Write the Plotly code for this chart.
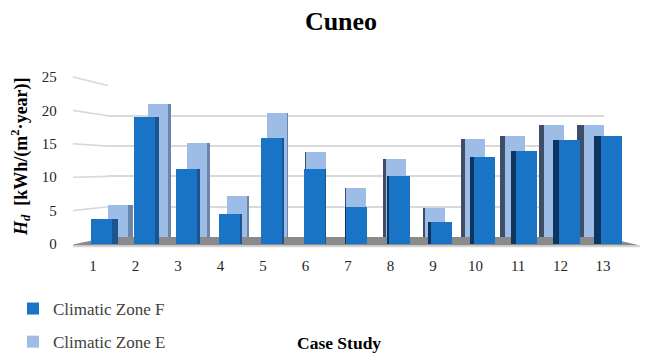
import plotly.graph_objects as go

# Heating demand per case study, two climatic zones
cases = list(range(1, 14))
case_labels = [str(c) for c in cases]
zone_f = [3.7, 19.0, 11.2, 4.5, 15.9, 11.2, 5.5, 10.2, 3.3, 13.0, 13.9, 15.6, 16.1]
zone_e = [5.3, 22.1, 15.6, 6.8, 20.6, 14.1, 8.2, 12.9, 4.8, 16.3, 16.7, 18.6, 18.6]
y_ticks = [0, 5, 10, 15, 20, 25]

W, H = 646, 357
FONT = "Liberation Serif, Times New Roman, serif"


def px(x):
    return x / W


def py(y):
    return 1 - y / H


# Pseudo-3D layout: the back row (zone E) sits on a smaller, raised set of axes
FRONT_X, FRONT_XR = (71.85, 624.35), (0.5, 13.5)
FRONT_Y = (244, 77)
BACK_X, BACK_XR = (108, 604), (0.95, 13.45)
BACK_Y = (237, 85.5)
Y_RANGE = (0, 25)
VANISH_X, DEPTH_K = 315, 0.024
FACE_OFF, FACE_W = -0.05, 0.5


def side_geometry(dom, rng, light, dark):
    scale = (dom[1] - dom[0]) / (rng[1] - rng[0])
    offs, widths, cols = [], [], []
    for c in cases:
        center = dom[0] + (c + FACE_OFF + FACE_W / 2 - rng[0]) * scale
        s = max(DEPTH_K * abs(center - VANISH_X), 1.0) / scale
        if center < VANISH_X:
            offs.append(FACE_OFF + FACE_W)
            cols.append(light)
        else:
            offs.append(FACE_OFF - s)
            cols.append(dark)
        widths.append(s)
    return offs, widths, cols


def front_y(v):
    return FRONT_Y[0] + (FRONT_Y[1] - FRONT_Y[0]) * v / Y_RANGE[1]


def back_y(v):
    return BACK_Y[0] + (BACK_Y[1] - BACK_Y[0]) * v / Y_RANGE[1]


fig = go.Figure()

# back row: zone E
b_off, b_w, b_col = side_geometry(BACK_X, BACK_XR, "#6c86ab", "#3e4e68")
fig.add_trace(go.Bar(x=cases, y=zone_e, offset=b_off, width=b_w,
                     marker=dict(color=b_col, line=dict(width=0)),
                     xaxis="x", yaxis="y", showlegend=False, hoverinfo="skip"))
fig.add_trace(go.Bar(x=cases, y=zone_e, offset=FACE_OFF, width=FACE_W,
                     name="Climatic Zone E", legendgroup="e", legendrank=2,
                     marker=dict(color="#9dbde7", line=dict(width=0)),
                     xaxis="x", yaxis="y"))

# front row: zone F
f_off, f_w, f_col = side_geometry(FRONT_X, FRONT_XR, "#1b5591", "#0d3561")
fig.add_trace(go.Bar(x=cases, y=zone_f, offset=f_off, width=f_w,
                     marker=dict(color=f_col, line=dict(width=0)),
                     xaxis="x2", yaxis="y2", showlegend=False, hoverinfo="skip"))
fig.add_trace(go.Bar(x=cases, y=zone_f, offset=FACE_OFF, width=FACE_W,
                     name="Climatic Zone F", legendgroup="f", legendrank=1,
                     marker=dict(color="#1a74c6", line=dict(width=0)),
                     xaxis="x2", yaxis="y2"))

shapes = []
# side-wall gridlines joining the front scale to the back wall
for v in y_ticks[1:]:
    shapes.append(dict(type="line", xref="paper", yref="paper", layer="below",
                       x0=px(73), y0=py(front_y(v)), x1=px(BACK_X[0]), y1=py(back_y(v)),
                       line=dict(color="#d9d9d9", width=1.6)))
# floor
floor = [(73, 244.5), (BACK_X[0], BACK_Y[0]), (BACK_X[1], BACK_Y[0]), (640, 245.5), (73, 245.5)]
path = "M" + " L".join(f"{px(a):.5f},{py(b):.5f}" for a, b in floor) + " Z"
shapes.append(dict(type="path", xref="paper", yref="paper", layer="below", path=path,
                   fillcolor="#8a8a8a", line=dict(width=0)))
shapes.append(dict(type="line", xref="paper", yref="paper", layer="below",
                   x0=px(73), y0=py(246.5), x1=px(640), y1=py(246.5),
                   line=dict(color="#d4d4d4", width=1.5)))

fig.update_layout(
    width=W, height=H,
    margin=dict(l=0, r=0, t=0, b=0, autoexpand=False),
    paper_bgcolor="white", plot_bgcolor="rgba(0,0,0,0)",
    barmode="overlay", bargap=0,
    font=dict(family=FONT, size=15, color="#262626"),
    title=dict(text="<b>Cuneo</b>", x=px(341), xanchor="center", y=py(21), yanchor="middle",
               font=dict(family=FONT, size=26, color="black")),
    xaxis=dict(domain=[px(BACK_X[0]), px(BACK_X[1])], range=list(BACK_XR), anchor="y",
               showgrid=False, zeroline=False, showline=False, showticklabels=False, ticks=""),
    yaxis=dict(domain=[py(BACK_Y[0]), py(BACK_Y[1])], range=list(Y_RANGE), anchor="x",
               tickvals=y_ticks, showgrid=True, gridcolor="#d9d9d9", gridwidth=1.6,
               zeroline=False, showline=False, showticklabels=False, ticks=""),
    xaxis2=dict(domain=[px(FRONT_X[0]), px(FRONT_X[1])], range=list(FRONT_XR), anchor="y2",
                tickvals=cases, ticktext=case_labels, showgrid=False, zeroline=False,
                showline=False, ticks="", ticklabelstandoff=11,
                tickfont=dict(family=FONT, size=15, color="#262626")),
    yaxis2=dict(domain=[py(FRONT_Y[0]), py(FRONT_Y[1])], range=list(Y_RANGE), anchor="x2",
                tickvals=y_ticks, showgrid=False, zeroline=False, showline=False, ticks="",
                ticklabelstandoff=14,
                tickfont=dict(family=FONT, size=15, color="#262626")),
    legend=dict(x=px(13), xanchor="left", y=py(291), yanchor="top",
                orientation="v", tracegroupgap=8, itemwidth=30, bgcolor="rgba(0,0,0,0)",
                font=dict(family=FONT, size=17, color="#404040")),
    shapes=shapes,
    annotations=[
        dict(text="<b><i>H<sub>d</sub></i>  [kWh/(m<sup>2</sup>·year)]</b>", textangle=-90,
             xref="paper", yref="paper", x=px(20), y=py(157), xanchor="center", yanchor="middle",
             showarrow=False, font=dict(family=FONT, size=18, color="black")),
        dict(text="<b>Case Study</b>", xref="paper", yref="paper", x=px(339), y=py(343),
             xanchor="center", yanchor="middle", showarrow=False,
             font=dict(family=FONT, size=17.5, color="black")),
    ],
)

fig.write_html("out.html")
